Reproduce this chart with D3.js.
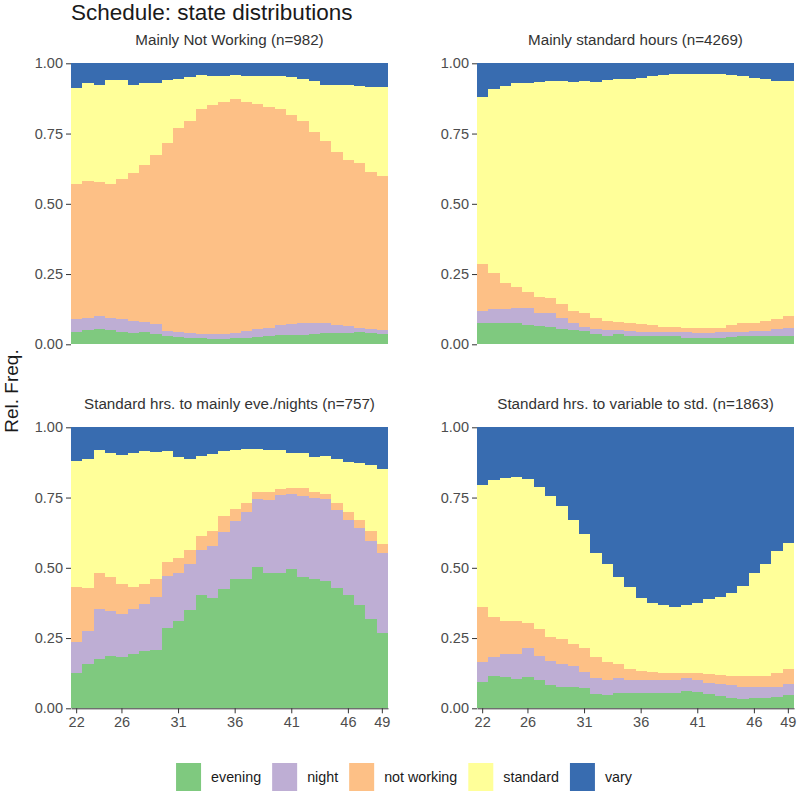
<!DOCTYPE html>
<html>
<head>
<meta charset="utf-8">
<script src="https://cdn.jsdelivr.net/npm/d3@7"></script>
<style>
  body { margin: 0; background: #fff; }
  svg { display: block; font-family: "Liberation Sans", Arial, sans-serif; }
</style>
</head>
<body>
<div id="chart"></div>
<script>
// Categories
const ages = [22, 23, 24, 25, 26, 27, 28, 29, 30, 31, 32, 33, 34, 35,
              36, 37, 38, 39, 40, 41, 42, 43, 44, 45, 46, 47, 48, 49]
const xTickLabels = [22, 26, 31, 36, 41, 46, 49]
const yTickValues = [0, 0.25, 0.5, 0.75, 1]
const states = ["evening", "night", "not working", "standard", "vary"]
const stateColors = ["#7fc97f", "#beaed4", "#fdc086", "#ffff99", "#386cb0"]
const panelTitles = ["Mainly Not Working (n=982)", "Mainly standard hours (n=4269)",
                     "Standard hrs. to mainly eve./nights (n=757)", "Standard hrs. to variable to std. (n=1863)"]

// Mainly Not Working
const notWorkEvening = [.045,.051,.056,.051,.045,.041,.045,.038,.030,.027,.024,.021,.020,.020,.021,.024,.026,.030,.032,.032,.034,.037,.039,.039,.041,.044,.039,.036]
const notWorkNight   = [.044,.044,.045,.044,.044,.042,.034,.033,.017,.017,.017,.015,.016,.018,.020,.023,.027,.029,.035,.039,.041,.040,.036,.028,.024,.015,.014,.015]
const notWorkNotWork = [.481,.487,.475,.475,.499,.526,.560,.604,.671,.725,.752,.801,.816,.826,.831,.817,.801,.785,.770,.746,.721,.677,.650,.619,.592,.586,.559,.549]
const notWorkStd     = [.341,.347,.347,.371,.353,.314,.290,.256,.223,.174,.157,.122,.103,.091,.087,.091,.101,.111,.118,.133,.147,.184,.198,.237,.266,.275,.305,.317]
const notWorkVary    = [.089,.071,.077,.059,.059,.077,.071,.069,.059,.057,.050,.041,.045,.045,.041,.045,.045,.045,.045,.050,.057,.062,.077,.077,.077,.080,.083,.083]

// Mainly standard hours
const stdEvening = [.077,.077,.077,.075,.069,.065,.062,.056,.051,.047,.036,.030,.036,.030,.028,.028,.028,.028,.024,.024,.024,.024,.027,.030,.030,.030,.030,.030]
const stdNight   = [.042,.048,.048,.055,.061,.048,.048,.039,.026,.016,.017,.020,.014,.017,.016,.016,.016,.016,.018,.015,.015,.020,.018,.015,.017,.017,.023,.029]
const stdNotWork = [.168,.130,.094,.075,.056,.055,.053,.047,.042,.050,.042,.033,.031,.030,.027,.024,.018,.018,.017,.018,.018,.015,.024,.030,.030,.036,.036,.042]
const stdStd     = [.594,.652,.700,.724,.745,.767,.774,.795,.815,.824,.839,.858,.862,.868,.878,.887,.895,.899,.902,.904,.904,.902,.888,.880,.872,.860,.848,.836]
const stdVary    = [.119,.093,.081,.071,.069,.065,.063,.063,.066,.063,.066,.059,.057,.055,.051,.045,.043,.039,.039,.039,.039,.039,.043,.045,.051,.057,.063,.063]

// Standard hrs. to mainly eve./nights
const eveEvening = [.125,.158,.174,.186,.181,.193,.205,.208,.285,.312,.350,.403,.391,.423,.459,.459,.502,.483,.483,.495,.466,.459,.454,.427,.403,.368,.317,.267]
const eveNight   = [.112,.118,.178,.162,.155,.159,.166,.189,.186,.168,.164,.160,.187,.206,.209,.241,.242,.258,.276,.268,.290,.288,.290,.279,.267,.273,.280,.285]
const eveNotWork = [.196,.151,.128,.118,.106,.081,.071,.062,.051,.054,.049,.050,.054,.055,.040,.032,.024,.027,.020,.020,.027,.021,.019,.026,.030,.029,.035,.033]
const eveStd     = [.448,.459,.439,.444,.460,.474,.475,.454,.395,.362,.324,.285,.273,.233,.211,.191,.155,.151,.140,.127,.124,.128,.135,.155,.178,.202,.234,.266]
const eveVary    = [.119,.114,.081,.090,.098,.093,.083,.087,.083,.104,.113,.102,.095,.083,.081,.077,.077,.081,.081,.090,.093,.104,.102,.113,.122,.128,.134,.149]

// Standard hrs. to variable to std.
const varEvening = [.095,.115,.110,.103,.113,.101,.083,.077,.077,.071,.051,.047,.053,.053,.053,.056,.056,.056,.063,.059,.051,.042,.036,.032,.036,.036,.039,.047]
const varNight   = [.068,.066,.083,.090,.101,.085,.087,.081,.074,.059,.056,.054,.054,.048,.048,.045,.045,.045,.044,.042,.040,.045,.047,.043,.039,.039,.038,.040]
const varNotWork = [.199,.143,.119,.119,.091,.095,.085,.088,.078,.084,.074,.062,.051,.038,.033,.029,.026,.024,.018,.024,.031,.032,.032,.040,.040,.040,.050,.052]
const varStd     = [.433,.489,.507,.512,.510,.505,.501,.474,.441,.406,.370,.351,.308,.292,.257,.244,.241,.237,.243,.251,.266,.276,.297,.320,.365,.399,.434,.451]
const varVary    = [.205,.187,.181,.176,.185,.214,.244,.280,.330,.380,.449,.486,.534,.569,.609,.626,.632,.638,.632,.624,.612,.605,.588,.565,.520,.486,.439,.410]

const panelSeries = [
  [notWorkEvening, notWorkNight, notWorkNotWork, notWorkStd, notWorkVary],
  [stdEvening, stdNight, stdNotWork, stdStd, stdVary],
  [eveEvening, eveNight, eveNotWork, eveStd, eveVary],
  [varEvening, varNight, varNotWork, varStd, varVary]
]

// Layout
const width = 798, height = 793
const colLeft = [71, 477], rowTop = [63.3, 427.3]
const panelW = 317, panelH = 281

const svg = d3.select("#chart").append("svg")
  .attr("width", width)
  .attr("height", height)

svg.append("text")
  .attr("x", 71).attr("y", 20)
  .attr("font-size", 22.5)
  .attr("fill", "#1a1a1a")
  .text("Schedule: state distributions")

svg.append("text")
  .attr("transform", `translate(18, 391) rotate(-90)`)
  .attr("text-anchor", "middle")
  .attr("font-size", 19)
  .attr("fill", "#1a1a1a")
  .text("Rel. Freq.")

const x = d3.scaleBand().domain(ages).range([0, panelW]).padding(0)
const y = d3.scaleLinear().domain([0, 1]).range([panelH, 0])
const color = d3.scaleOrdinal().domain(states).range(stateColors)

panelSeries.forEach((series, i) => {
  const row = Math.floor(i / 2), col = i % 2
  const g = svg.append("g")
    .attr("transform", `translate(${colLeft[col]},${rowTop[row]})`)

  // tabla por edad
  const table = ages.map((age, j) => {
    const d = {age}
    states.forEach((s, k) => d[s] = series[k][j])
    return d
  })
  const stacked = d3.stack().keys(states)(table)

  g.selectAll("g.layer")
    .data(stacked)
    .join("g")
      .attr("class", "layer")
      .attr("fill", d => color(d.key))
    .selectAll("rect")
    .data(d => d)
    .join("rect")
      .attr("shape-rendering", "crispEdges")
      .attr("x", d => x(d.data.age))
      .attr("width", x.bandwidth())
      .attr("y", d => y(d[1]))
      .attr("height", d => y(d[0]) - y(d[1]))

  g.append("text")
    .attr("x", panelW / 2).attr("y", -18.5)
    .attr("text-anchor", "middle")
    .attr("font-size", 15.2)
    .attr("fill", "#333")
    .text(panelTitles[i])

  const yAxis = g.append("g")
    .call(d3.axisLeft(y).tickValues(yTickValues).tickFormat(d3.format(".2f")).tickSize(5).tickPadding(3))
  yAxis.select(".domain").remove()
  yAxis.selectAll(".tick line").attr("stroke", "#333")
  yAxis.selectAll(".tick text")
    .attr("font-size", 14.5)
    .attr("font-family", "Liberation Sans, Arial, sans-serif")
    .attr("fill", "#4d4d4d")

  if (row === 1) {
    const xAxis = g.append("g")
      .attr("transform", `translate(0,${panelH})`)
      .call(d3.axisBottom(x).tickValues(xTickLabels).tickSize(5).tickSizeOuter(0).tickPadding(3))
    xAxis.select(".domain").attr("stroke", "#333")
    xAxis.selectAll(".tick line").attr("stroke", "#333")
    xAxis.selectAll(".tick text")
      .attr("font-size", 14.5)
      .attr("font-family", "Liberation Sans, Arial, sans-serif")
      .attr("fill", "#4d4d4d")
  }
})

// Leyenda
const legend = svg.append("g").attr("transform", "translate(0,763)")
let lx = 0
const items = legend.selectAll("g")
  .data(states)
  .join("g")
items.append("rect")
  .attr("width", 25).attr("height", 28)
  .attr("fill", d => color(d))
items.append("text")
  .attr("x", 35).attr("y", 19)
  .attr("font-size", 14.3)
  .attr("fill", "#1a1a1a")
  .text(d => d)
items.each(function () {
  const w = 35 + this.querySelector("text").getComputedTextLength()
  d3.select(this).attr("transform", `translate(${lx},0)`)
  lx += w + 11
})
legend.attr("transform", `translate(${404 - (lx - 11) / 2},763)`)
</script>
</body>
</html>
